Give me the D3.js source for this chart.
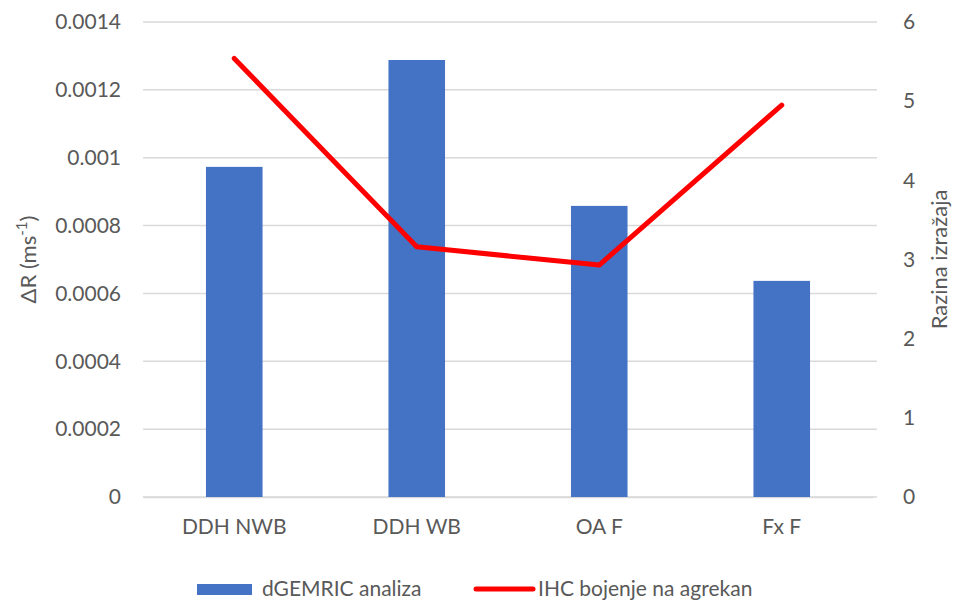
<!DOCTYPE html>
<html>
<head>
<meta charset="utf-8">
<script src="https://d3js.org/d3.v7.min.js"></script>
<style>
  body { margin: 0; background: #fff; }
  text { font-family: Lato, "Open Sans", sans-serif; fill: #595959; }
</style>
</head>
<body>
<script>
// chart values
const categories = ["DDH NWB", "DDH WB", "OA F", "Fx F"];
const barValues = [0.000973, 0.001288, 0.000858, 0.000637];   // dGEMRIC analiza
const lineValues = [5.54, 3.16, 2.93, 4.95];                  // IHC bojenje na agrekan
const leftTicks = [0, 0.0002, 0.0004, 0.0006, 0.0008, 0.001, 0.0012, 0.0014];
const leftTickLabels = ["0", "0.0002", "0.0004", "0.0006", "0.0008", "0.001", "0.0012", "0.0014"];
const rightTicks = [0, 1, 2, 3, 4, 5, 6];
const seriesNames = ["dGEMRIC analiza", "IHC bojenje na agrekan"];

const W = 956, H = 603;
const margin = {top: 22, right: 83, bottom: 106, left: 143};
const width = W - margin.left - margin.right,
      height = H - margin.top - margin.bottom;

const svg = d3.select("body").append("svg")
    .attr("width", W)
    .attr("height", H);

const g = svg.append("g")
    .attr("transform", "translate(" + margin.left + "," + margin.top + ")");

const x = d3.scaleBand().domain(categories).range([0, width]).paddingInner(0.69).paddingOuter(0.345);
const xc = d3.scaleBand().domain(categories).range([0, width]);
const yL = d3.scaleLinear().domain([0, 0.0014]).range([height, 0]);
const yR = d3.scaleLinear().domain([0, 6]).range([height, 0]);

// gridlines
g.append("g")
    .selectAll("line")
    .data(leftTicks)
    .join("line")
    .attr("x1", 0)
    .attr("x2", width + 4)
    .attr("y1", d => yL(d))
    .attr("y2", d => yL(d))
    .attr("stroke", "#d9d9d9")
    .attr("stroke-width", 1.5);

// left axis
const leftAxis = d3.axisLeft(yL).tickValues(leftTicks)
    .tickFormat((d, i) => leftTickLabels[i]).tickSize(0).tickPadding(22);
const gl = g.append("g").call(leftAxis);
gl.select(".domain").remove();
gl.selectAll("text").style("font-size", "21px").style("fill", "#595959").style("font-family", "Lato");

// right axis
const rightAxis = d3.axisRight(yR).tickValues(rightTicks).tickFormat(d3.format("d")).tickSize(0).tickPadding(30);
const gr = g.append("g").attr("transform", "translate(" + width + ",0)").call(rightAxis);
gr.select(".domain").remove();
gr.selectAll("text").style("font-size", "21px").style("fill", "#595959").style("font-family", "Lato");

// bottom axis
const bottomAxis = d3.axisBottom(xc).tickSize(0).tickPadding(22);
const gb = g.append("g").attr("transform", "translate(0," + height + ")").call(bottomAxis);
gb.select(".domain").attr("stroke", "#d9d9d9").attr("stroke-width", 1.5);
gb.selectAll("text").style("font-size", "21px").style("fill", "#595959").style("font-family", "Lato");

// bars
g.append("g")
    .selectAll("rect")
    .data(barValues)
    .join("rect")
    .attr("x", (d, i) => x(categories[i]))
    .attr("y", d => yL(d))
    .attr("width", x.bandwidth())
    .attr("height", d => height - yL(d))
    .attr("fill", "#4472c4");

// line
const line = d3.line()
    .x((d, i) => xc(categories[i]) + xc.bandwidth() / 2)
    .y(d => yR(d));

g.append("path")
    .datum(lineValues)
    .attr("d", line)
    .attr("fill", "none")
    .attr("stroke", "#ff0000")
    .attr("stroke-width", 5)
    .attr("stroke-linejoin", "round")
    .attr("stroke-linecap", "round");

// axis titles
svg.append("text")
    .attr("transform", "translate(36," + (margin.top + height / 2) + ") rotate(-90)")
    .attr("text-anchor", "middle")
    .style("font-size", "22px")
    .text("ΔR (ms")
    .append("tspan").attr("baseline-shift", "super").style("font-size", "15px").text("-1")
    .select(function() { return this.parentNode; })
    .append("tspan").text(")");

svg.append("text")
    .attr("transform", "translate(947," + (margin.top + height / 2) + ") rotate(-90)")
    .attr("text-anchor", "middle")
    .style("font-size", "22px")
    .text("Razina izražaja");

// legend
const leg = svg.append("g").attr("transform", "translate(0,589)");
leg.append("rect").attr("x", 197).attr("y", -5).attr("width", 55).attr("height", 11).attr("fill", "#4472c4");
leg.append("text").attr("x", 262).attr("y", 0).attr("dy", "0.35em").style("font-size", "21px").text(seriesNames[0]);
leg.append("line").attr("x1", 476).attr("x2", 533).attr("y1", 0).attr("y2", 0)
    .attr("stroke", "#ff0000").attr("stroke-width", 5).attr("stroke-linecap", "round");
leg.append("text").attr("x", 538).attr("y", 0).attr("dy", "0.35em").style("font-size", "21px").text(seriesNames[1]);
</script>
</body>
</html>
